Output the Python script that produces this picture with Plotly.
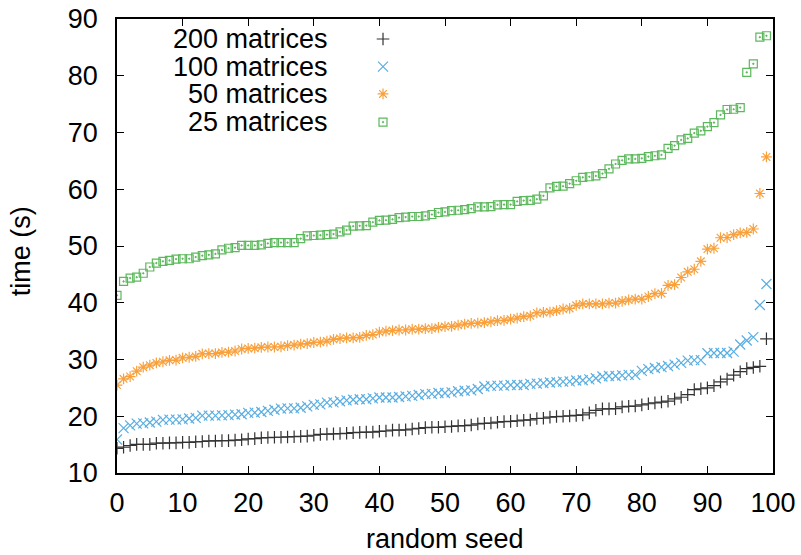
import plotly.graph_objects as go

# Runtime per random seed, sorted ascending, for each batch size
seeds = list(range(100))

t_200 = [14.35, 14.55, 14.85, 15.05, 15.05, 15.05, 15.25, 15.25, 15.3, 15.3,
         15.4, 15.4, 15.5, 15.55, 15.65, 15.65, 15.7, 15.7, 15.8, 15.85,
         16.0, 16.05, 16.2, 16.25, 16.3, 16.3, 16.35, 16.4, 16.45, 16.5,
         16.65, 16.8, 16.85, 16.9, 16.95, 17.0, 17.1, 17.15, 17.2, 17.2,
         17.35, 17.4, 17.55, 17.55, 17.6, 17.75, 17.85, 18.0, 18.05, 18.05,
         18.15, 18.2, 18.3, 18.35, 18.45, 18.65, 18.75, 18.8, 18.95, 19.05,
         19.1, 19.2, 19.3, 19.35, 19.6, 19.65, 19.85, 19.95, 20.0, 20.05,
         20.15, 20.25, 20.6, 21.05, 21.3, 21.3, 21.35, 21.65, 21.75, 21.8,
         22.0, 22.2, 22.35, 22.5, 22.65, 23.05, 23.35, 23.8, 24.7, 24.85,
         25.0, 25.4, 26.05, 26.55, 27.25, 27.85, 28.4, 28.6, 28.8, 33.65]

t_100 = [15.9, 17.9, 18.4, 18.7, 18.75, 18.9, 19.05, 19.35, 19.4, 19.4,
         19.45, 19.6, 19.7, 20.1, 20.1, 20.1, 20.15, 20.2, 20.3, 20.35,
         20.6, 20.65, 20.75, 20.95, 21.15, 21.35, 21.4, 21.4, 21.5, 21.75,
         22.0, 22.1, 22.4, 22.45, 22.65, 22.8, 22.9, 23.0, 23.0, 23.15,
         23.3, 23.3, 23.3, 23.4, 23.5, 23.6, 23.75, 23.9, 23.95, 24.1,
         24.1, 24.2, 24.4, 24.5, 24.55, 24.8, 25.25, 25.35, 25.4, 25.4,
         25.5, 25.5, 25.5, 25.7, 25.75, 25.85, 25.95, 26.0, 26.1, 26.15,
         26.3, 26.35, 26.5, 26.7, 27.0, 27.1, 27.1, 27.2, 27.3, 27.3,
         28.0, 28.3, 28.5, 28.65, 28.85, 29.1, 29.4, 29.8, 29.9, 29.9,
         31.1, 31.15, 31.15, 31.15, 31.4, 32.65, 33.35, 33.95, 39.6, 43.3]

t_50 = [25.5, 26.6, 27.0, 27.95, 28.65, 29.0, 29.4, 29.6, 29.85, 29.9,
        30.3, 30.4, 30.55, 31.0, 31.05, 31.05, 31.25, 31.3, 31.5, 31.85,
        31.95, 32.0, 32.15, 32.2, 32.2, 32.25, 32.45, 32.55, 32.7, 32.8,
        33.0, 33.05, 33.25, 33.55, 33.7, 33.8, 33.8, 33.9, 34.25, 34.4,
        34.8, 35.0, 35.1, 35.2, 35.2, 35.35, 35.35, 35.45, 35.45, 35.65,
        35.8, 35.85, 36.05, 36.25, 36.35, 36.4, 36.5, 36.65, 36.85, 36.9,
        37.1, 37.3, 37.55, 37.7, 38.2, 38.3, 38.35, 38.6, 38.9, 39.0,
        39.55, 39.8, 39.8, 39.8, 39.8, 39.95, 39.95, 40.25, 40.5, 40.65,
        40.65, 41.1, 41.6, 41.65, 43.05, 43.2, 44.45, 45.45, 45.9, 47.3,
        49.45, 49.6, 51.45, 51.5, 52.0, 52.3, 52.4, 53.0, 59.25, 65.7]

t_25 = [41.3, 43.75, 44.35, 44.5, 45.2, 46.3, 47.0, 47.3, 47.45, 47.7,
        47.75, 47.75, 48.05, 48.3, 48.45, 48.6, 49.3, 49.6, 49.7, 50.1,
        50.1, 50.1, 50.2, 50.45, 50.6, 50.6, 50.6, 50.6, 51.3, 51.8,
        51.85, 51.9, 52.0, 52.1, 52.5, 52.8, 53.5, 53.55, 53.6, 54.2,
        54.5, 54.55, 54.7, 55.0, 55.1, 55.2, 55.2, 55.3, 55.55, 55.9,
        56.0, 56.25, 56.3, 56.4, 56.6, 56.9, 56.9, 56.95, 57.25, 57.3,
        57.3, 57.85, 58.0, 58.05, 58.25, 58.85, 60.25, 60.5, 60.55, 61.0,
        61.5, 62.1, 62.2, 62.35, 62.75, 63.6, 64.45, 65.1, 65.35, 65.35,
        65.45, 65.75, 65.9, 66.05, 67.2, 67.7, 68.7, 68.95, 69.9, 70.3,
        71.05, 71.75, 73.1, 74.05, 74.1, 74.4, 80.6, 82.1, 86.8, 87.05]

series_names = ["200 matrices", "100 matrices", "50 matrices", "25 matrices"]
series_values = [t_200, t_100, t_50, t_25]
series_colors = ["#333333", "#5aaee2", "#f9a03c", "#5cb85c"]
series_symbols = ["cross-thin-open", "x-thin-open", "asterisk-open", "square-open-dot"]
series_sizes = [9, 10, 9, 8]

x_ticks = list(range(0, 101, 10))
y_ticks = list(range(10, 91, 10))

FONT = "Liberation Sans, Arial, Helvetica, sans-serif"
FSIZE = 27

fig = go.Figure()

for name, vals, col, sym, sz in zip(series_names, series_values, series_colors,
                                    series_symbols, series_sizes):
    fig.add_trace(go.Scatter(
        x=seeds, y=vals, mode="markers", name=name, showlegend=False,
        marker=dict(symbol=sym, size=sz, color=col,
                    line=dict(color=col, width=1.2)),
    ))

# Key: right-aligned labels followed by a sample marker, on an overlay axis
key_rows = [0.956, 0.895, 0.835, 0.773]
key_mark_x = 0.4055
key_text_x = 0.3247
for name, col, sym, sz, ky in zip(series_names, series_colors, series_symbols,
                                  series_sizes, key_rows):
    fig.add_trace(go.Scatter(
        x=[key_mark_x], y=[ky], mode="markers", xaxis="x2", yaxis="y2",
        showlegend=False, hoverinfo="skip",
        marker=dict(symbol=sym, size=sz, color=col,
                    line=dict(color=col, width=1.2)),
    ))
    fig.add_annotation(x=key_text_x, y=ky, xref="paper", yref="paper",
                       text=name, showarrow=False, xanchor="right",
                       yanchor="middle",
                       font=dict(family=FONT, size=FSIZE, color="#000"))

# Axis titles
fig.add_annotation(x=0.5, y=-0.145, xref="paper", yref="paper",
                   text="random seed", showarrow=False,
                   xanchor="center", yanchor="middle",
                   font=dict(family=FONT, size=FSIZE, color="#000"))
fig.add_annotation(x=-0.145, y=0.488, xref="paper", yref="paper",
                   text="time (s)", showarrow=False, textangle=-90,
                   xanchor="center", yanchor="middle",
                   font=dict(family=FONT, size=FSIZE, color="#000"))

axis_common = dict(
    showgrid=False, zeroline=False, showline=True, linecolor="#000",
    linewidth=1.5, mirror="ticks", ticks="inside", ticklen=7,
    tickwidth=1.2, tickcolor="#000", automargin=False,
    tickfont=dict(family=FONT, size=FSIZE, color="#000"),
)

fig.update_layout(
    width=801, height=555,
    margin=dict(l=117, r=28, t=19, b=82),
    paper_bgcolor="white", plot_bgcolor="white",
    font=dict(family=FONT, size=FSIZE, color="#000"),
    xaxis=dict(range=[0, 100], tickvals=x_ticks, ticklabelstandoff=5,
               **axis_common),
    yaxis=dict(range=[10, 90], tickvals=y_ticks, ticklabelstandoff=12,
               **axis_common),
    xaxis2=dict(range=[0, 1], overlaying="x", visible=False, domain=[0, 1]),
    yaxis2=dict(range=[0, 1], overlaying="y", visible=False, domain=[0, 1]),
    showlegend=False,
)

fig.write_html("out.html")
